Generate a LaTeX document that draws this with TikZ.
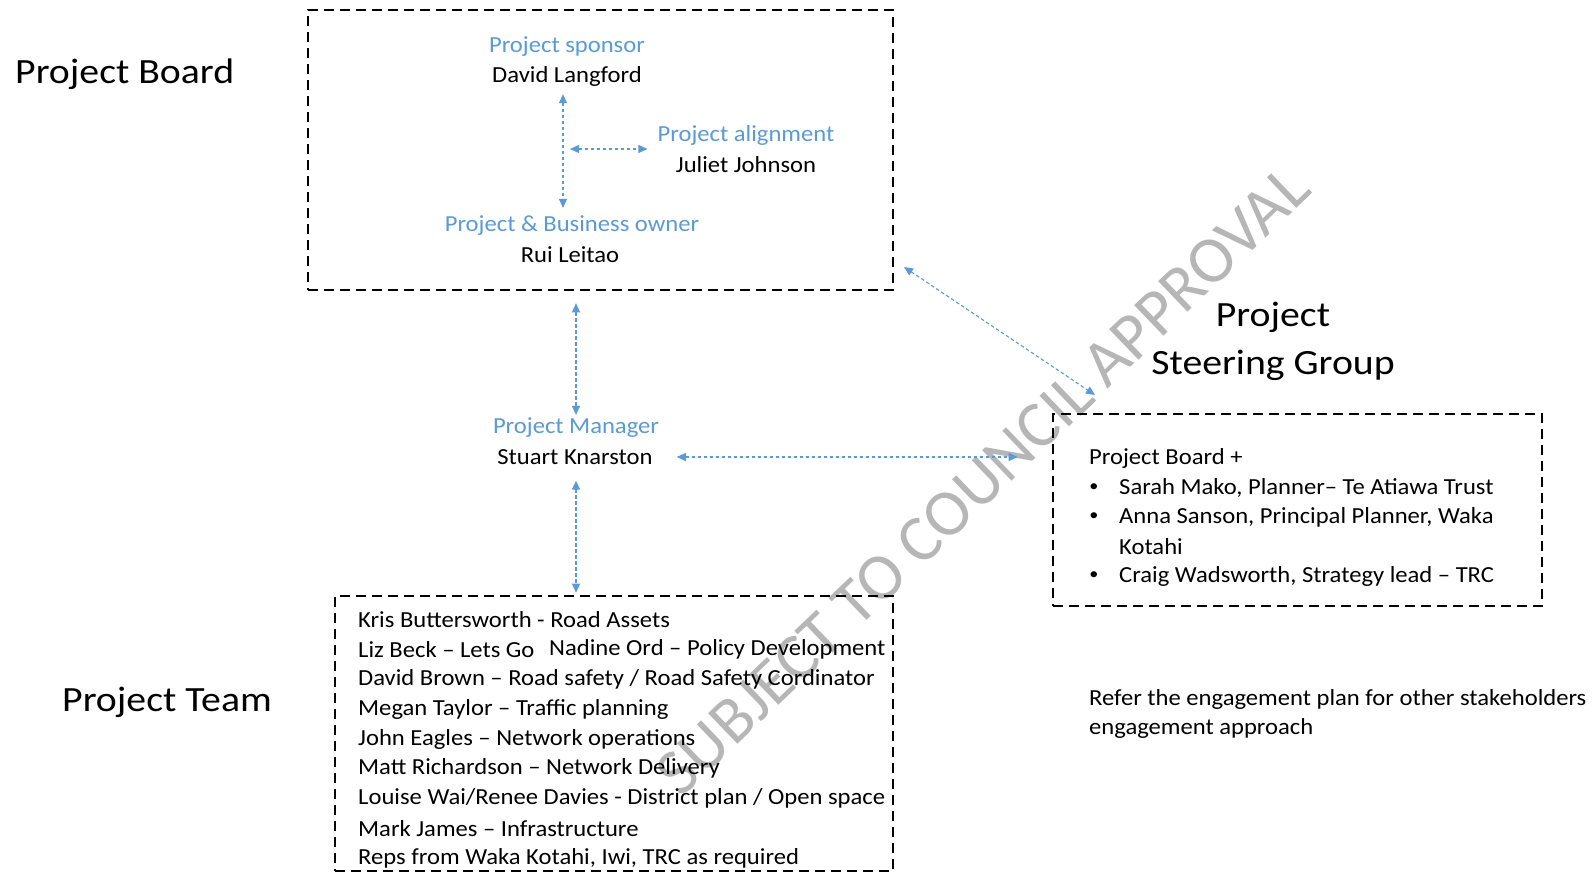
\documentclass[tikz,border=0pt]{standalone}
\usepackage{fontspec}
\setmainfont{Carlito}
\newfontfamily\bodyfont{Carlito}[FakeStretch=1.07]
\newfontfamily\titlefont{Carlito}[FakeStretch=1.12]
\usetikzlibrary{arrows.meta,calc}
\definecolor{accent}{RGB}{91,155,213}
\definecolor{wmgray}{RGB}{182,182,182}
\tikzset{
  dbox/.style={draw=black, line width=2.6pt, dash pattern=on 10pt off 6pt, inner sep=0pt},
  conn/.style={draw=accent, line width=1.1pt, dash pattern=on 3.5pt off 2.5pt,
     {Triangle[length=9pt,width=8pt]}-{Triangle[length=9pt,width=8pt]}},
  role/.style={text=accent, font=\bodyfont\fontsize{23}{28}\selectfont, inner sep=0pt},
  person/.style={text=black, font=\bodyfont\fontsize{23}{28}\selectfont, inner sep=0pt},
  item/.style={text=black, font=\bodyfont\fontsize{23}{28}\selectfont, inner sep=0pt, anchor=west},
  bul/.style={text=black, font=\bodyfont\fontsize{17}{20}\selectfont, inner sep=0pt},
  bigtitle/.style={text=black, font=\titlefont\fontsize{35.5}{48}\selectfont, inner sep=0pt},
}
\begin{document}
\begin{tikzpicture}[x=1pt,y=-1pt]
\useasboundingbox (0,0) rectangle (1594,874);
\fill[white] (0,0) rectangle (1594,874);

% watermark
\node[text=wmgray, font=\fontsize{66}{70}\selectfont, rotate=43.8, inner sep=0pt] (wm) at (983,480) {SUBJECT TO COUNCIL APPROVAL};

% titles
\node[bigtitle, anchor=west] (tboard) at (15,74) {Project Board};
\node[bigtitle, anchor=west] (tteam) at (62,702) {Project Team};
\node[bigtitle, align=center] (tsteer) at (1273,341) {Project\\Steering Group};

% boxes
\node[dbox, minimum width=585pt, minimum height=280pt] (board) at (600.5,150) {};
\node[dbox, minimum width=489pt, minimum height=192pt] (steer) at (1297.5,510) {};
\node[dbox, minimum width=558pt, minimum height=275pt] (team) at (614,733.5) {};

% board contents
\node[role] (ps) at (567,47) {Project sponsor};
\node[person] (dl) at (567,76) {David Langford};
\node[role] (pa) at (746,135) {Project alignment};
\node[person] (jj) at (746,165) {Juliet Johnson};
\node[role] (pbo) at (572,226) {Project \& Business owner};
\node[person] (rl) at (570,255) {Rui Leitao};
\coordinate (vmid) at (563,149);

% manager
\node[role] (pm) at (576,428) {Project Manager};
\node[person] (sk) at (575,457) {Stuart Knarston};

% steering group contents
\node[item] (sg0) at (1089,458) {Project Board +};
\node[bul] (b1) at (1094,488) {\textbullet};
\node[item] (sg1) at (1119,488) {Sarah Mako, Planner– Te Atiawa Trust};
\node[bul] (b2) at (1094,517) {\textbullet};
\node[item] (sg2) at (1119,517) {Anna Sanson, Principal Planner, Waka};
\node[item] (sg2b) at (1119,547) {Kotahi};
\node[bul] (b3) at (1094,576) {\textbullet};
\node[item] (sg3) at (1119,576) {Craig Wadsworth, Strategy lead – TRC};

% refer text
\node[item] (ref1) at (1089,699) {Refer the engagement plan for other stakeholders};
\node[item] (ref2) at (1089,728) {engagement approach};

% team contents
\node[item] (t1) at (358,620) {Kris Buttersworth - Road Assets};
\node[item] (t2) at (358,649.75) {Liz Beck – Lets Go};
\node[item] (t2b) at (549,649.75) {Nadine Ord – Policy Development};
\node[item] (t3) at (358,679.5) {David Brown – Road safety / Road Safety Cordinator};
\node[item] (t4) at (358,709.25) {Megan Taylor – Traffic planning};
\node[item] (t5) at (358,739) {John Eagles – Network operations};
\node[item] (t6) at (358,768.75) {Matt Richardson – Network Delivery};
\node[item] (t7) at (358,798.5) {Louise Wai/Renee Davies - District plan / Open space};
\node[item] (t8) at (358,828.25) {Mark James – Infrastructure};
\node[item] (t9) at (358,858) {Reps from Waka Kotahi, Iwi, TRC as required};

% connectors
\draw[conn, shorten <=8pt, shorten >=8pt] (dl.south -| vmid) -- (pbo.north -| vmid);
\draw[conn, shorten <=7pt, shorten >=10pt] (vmid) -- (vmid -| pa.west);
\draw[conn, shorten <=12pt, shorten >=3pt] (board.south -| pm.north) -- (pm.north);
\draw[conn, shorten <=24pt, shorten >=34pt] (sk.east) -- (sk.east -| steer.west);
\draw[conn, shorten <=16pt, shorten >=2pt] (sk.south -| pm.north) -- (team.north -| pm.north);
\coordinate (d1) at (904,267);
\coordinate (d2) at (1095,395);
\draw[conn] (d1) -- (d2);
\end{tikzpicture}
\end{document}
